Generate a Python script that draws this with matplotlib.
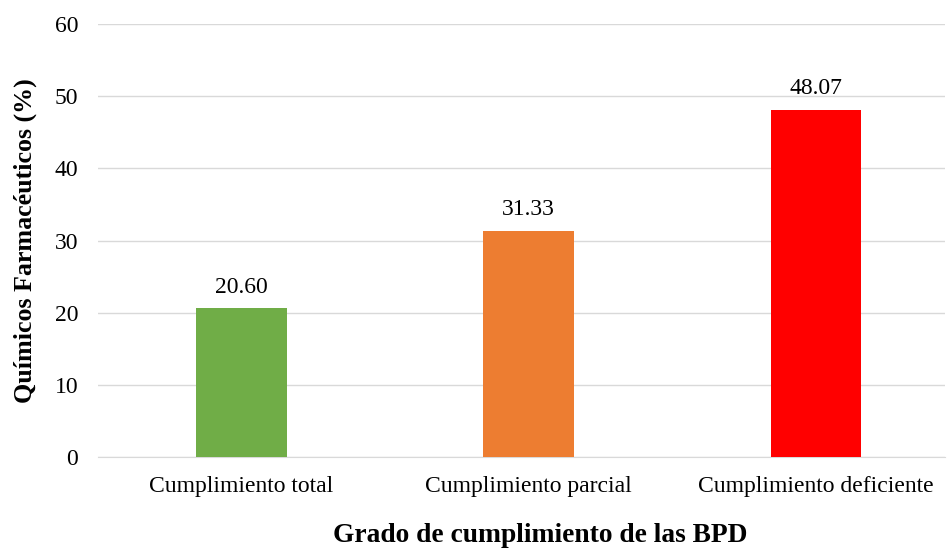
import matplotlib
matplotlib.use("Agg")
from matplotlib import pyplot as plt

categories = ["Cumplimiento total", "Cumplimiento parcial", "Cumplimiento deficiente"]
values = [20.60, 31.33, 48.07]
colors = ["#70AD47", "#ED7D31", "#FF0000"]

plt.rcParams['font.family'] = ['Liberation Serif', 'DejaVu Serif']

fig = plt.figure(figsize=(9.49, 5.5), dpi=100)
ax = fig.add_axes([0.103, 0.169, 0.893, 0.787])

x = range(len(categories))
bars = ax.bar(x, values, width=0.315, color=colors, zorder=3)
for xi, v in zip(x, values):
	ax.text(xi, v + 1.5, f'{v:.2f}', ha='center', va='bottom', fontsize=17)

ax.set_ylim(0, 60)
ax.set_yticks(range(0, 61, 10))
ax.set_xlim(-0.5, 2.45)
ax.set_xticks(list(x))
ax.set_xticklabels(categories)
ax.tick_params(axis='both', length=0, labelsize=17)
ax.tick_params(axis='x', pad=14)
ax.tick_params(axis='y', pad=14)
ax.grid(axis='y', color='#D9D9D9', linewidth=1, zorder=0)
for s in ['top', 'right', 'left']:
	ax.spines[s].set_visible(False)
ax.spines['bottom'].set_color('#D9D9D9')

ax.set_xlabel('Grado de cumplimiento de las BPD', fontsize=19.8, fontweight='bold')
ax.xaxis.set_label_coords(0.522, -0.152)
ax.set_ylabel('Químicos Farmacéuticos (%)', fontsize=18.7, fontweight='bold', labelpad=13)

fig.savefig('out.png', dpi=100)
